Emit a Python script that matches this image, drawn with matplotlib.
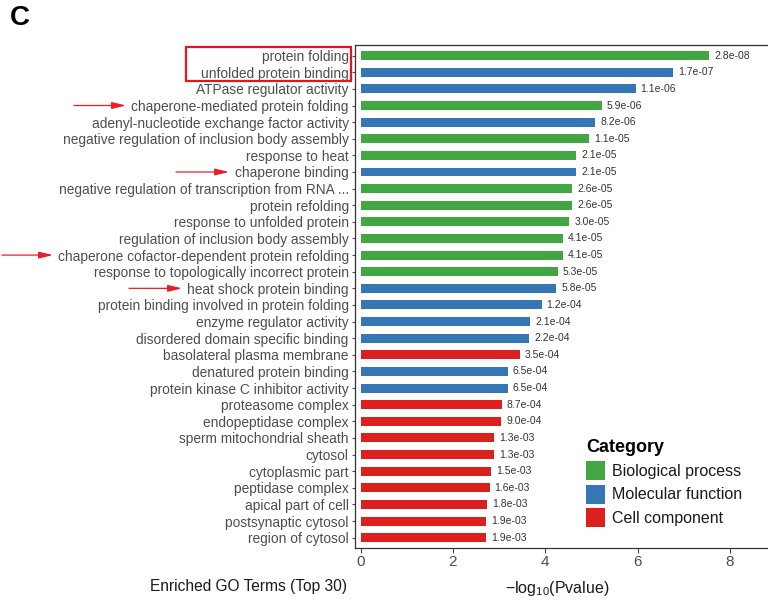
import numpy as np
import matplotlib
matplotlib.use('Agg')
import matplotlib.pyplot as plt
from matplotlib.patches import Patch, Rectangle
from matplotlib.transforms import blended_transform_factory

plt.rcParams['font.family'] = ['Liberation Sans', 'DejaVu Sans']
plt.rcParams['mathtext.fontset'] = 'custom'
plt.rcParams['mathtext.rm'] = 'Liberation Sans'
plt.rcParams['mathtext.it'] = 'Liberation Sans:italic'

# top 30 enriched GO terms, most significant first
terms = [
    'protein folding',
    'unfolded protein binding',
    'ATPase regulator activity',
    'chaperone-mediated protein folding',
    'adenyl-nucleotide exchange factor activity',
    'negative regulation of inclusion body assembly',
    'response to heat',
    'chaperone binding',
    'negative regulation of transcription from RNA ...',
    'protein refolding',
    'response to unfolded protein',
    'regulation of inclusion body assembly',
    'chaperone cofactor-dependent protein refolding',
    'response to topologically incorrect protein',
    'heat shock protein binding',
    'protein binding involved in protein folding',
    'enzyme regulator activity',
    'disordered domain specific binding',
    'basolateral plasma membrane',
    'denatured protein binding',
    'protein kinase C inhibitor activity',
    'proteasome complex',
    'endopeptidase complex',
    'sperm mitochondrial sheath',
    'cytosol',
    'cytoplasmic part',
    'peptidase complex',
    'apical part of cell',
    'postsynaptic cytosol',
    'region of cytosol',
]
categories = [
    'BP', 'MF', 'MF', 'BP', 'MF', 'BP', 'BP', 'MF', 'BP', 'BP',
    'BP', 'BP', 'BP', 'BP', 'MF', 'MF', 'MF', 'MF', 'CC', 'MF',
    'MF', 'CC', 'CC', 'CC', 'CC', 'CC', 'CC', 'CC', 'CC', 'CC',
]
pvalues = [
    2.8e-08, 1.7e-07, 1.1e-06, 5.9e-06, 8.2e-06, 1.1e-05, 2.1e-05, 2.1e-05,
    2.6e-05, 2.6e-05, 3.0e-05, 4.1e-05, 4.1e-05, 5.3e-05, 5.8e-05, 1.2e-04,
    2.1e-04, 2.2e-04, 3.5e-04, 6.5e-04, 6.5e-04, 8.7e-04, 9.0e-04, 1.3e-03,
    1.3e-03, 1.5e-03, 1.6e-03, 1.8e-03, 1.9e-03, 1.9e-03,
]
category_names = {
    'BP': 'Biological process',
    'MF': 'Molecular function',
    'CC': 'Cell component',
}
category_colors = {'BP': '#42a642', 'MF': '#3577b5', 'CC': '#dc1f1f'}

# terms highlighted with arrows
highlighted = [
    'chaperone-mediated protein folding',
    'chaperone binding',
    'chaperone cofactor-dependent protein refolding',
    'heat shock protein binding',
]
arrow_x = {  # arrow start/end, pixels from the left edge
    'chaperone-mediated protein folding': (74, 126),
    'chaperone binding': (176, 229),
    'chaperone cofactor-dependent protein refolding': (2, 53),
    'heat shock protein binding': (129, 182),
}

W, H = 768, 603
fig = plt.figure(figsize=(W / 100, H / 100), dpi=100)
ax = fig.add_axes([355 / W, 1 - 547.5 / H, 421 / W, 503 / H])

scores = -np.log10(pvalues)
ypos = np.arange(len(terms))
colors = [category_colors[c] for c in categories]
ax.barh(ypos, scores, height=0.54, color=colors, edgecolor='none')

for y, s, p in zip(ypos, scores, pvalues):
    ax.annotate(f'{p:.1e}', xy=(s, y), xytext=(3.6, 0), textcoords='offset points',
                ha='left', va='center', fontsize=7.5, color='#333333')

ax.set_xlim(-0.12, 9.0)
ax.set_ylim(len(terms) - 0.41, -0.67)
ax.set_yticks(ypos)
ax.set_yticklabels(terms, fontsize=9.9, color='#4d4d4d')
ax.set_xticks([0, 2, 4, 6, 8])
ax.tick_params(axis='x', labelsize=11, labelcolor='#4d4d4d', colors='#4d4d4d',
               length=3.5, width=0.8, pad=2)
ax.tick_params(axis='y', colors='#4d4d4d', length=2.5, width=0.8, pad=2)
for sp in ax.spines.values():
    sp.set_color('#333333')
    sp.set_linewidth(0.9)

fig.text(557 / W, 1 - 588 / H, r'$-\mathrm{log}_{10}$(Pvalue)', ha='center', va='center',
         fontsize=11.5, color='#1a1a1a')
fig.text(347 / W, 1 - 587 / H, 'Enriched GO Terms (Top 30)', ha='right', va='center',
         fontsize=11.2, color='#1a1a1a')
fig.text(10 / W, 1 - 18 / H, 'C', ha='left', va='center', fontsize=20,
         fontweight='bold', color='black')

# category legend
handles = [Patch(facecolor=category_colors[k], edgecolor='none', label=v)
           for k, v in category_names.items()]
leg = fig.legend(handles=handles, title='Category', loc='upper left',
                 bbox_to_anchor=(586 / W, 1 - 439 / H), bbox_transform=fig.transFigure,
                 frameon=False, fontsize=11.5, borderpad=0, borderaxespad=0,
                 handlelength=1.2, handleheight=1.45, handletextpad=0.45,
                 labelspacing=0.3, alignment='left',
                 title_fontproperties={'weight': 'bold', 'size': 13})
for t in leg.get_texts():
    t.set_color('#1a1a1a')

# red box around the top two terms and arrows to the chaperone terms
mix = blended_transform_factory(fig.transFigure, ax.transData)
fig.patches.append(Rectangle((186 / W, -0.54), 165 / W, 2.08, transform=mix,
                             fill=False, edgecolor='#e8141c', linewidth=1.6))
for term in highlighted:
    row = terms.index(term)
    x0, x1 = arrow_x[term]
    ax.annotate('', xy=(x1 / W, row), xytext=(x0 / W, row),
                xycoords=('figure fraction', 'data'),
                textcoords=('figure fraction', 'data'), annotation_clip=False,
                arrowprops=dict(arrowstyle='-|>,head_length=0.7,head_width=0.17',
                                color='#ee1c24', lw=0.9, mutation_scale=12,
                                shrinkA=0, shrinkB=0))

fig.savefig('out.png', dpi=100)
